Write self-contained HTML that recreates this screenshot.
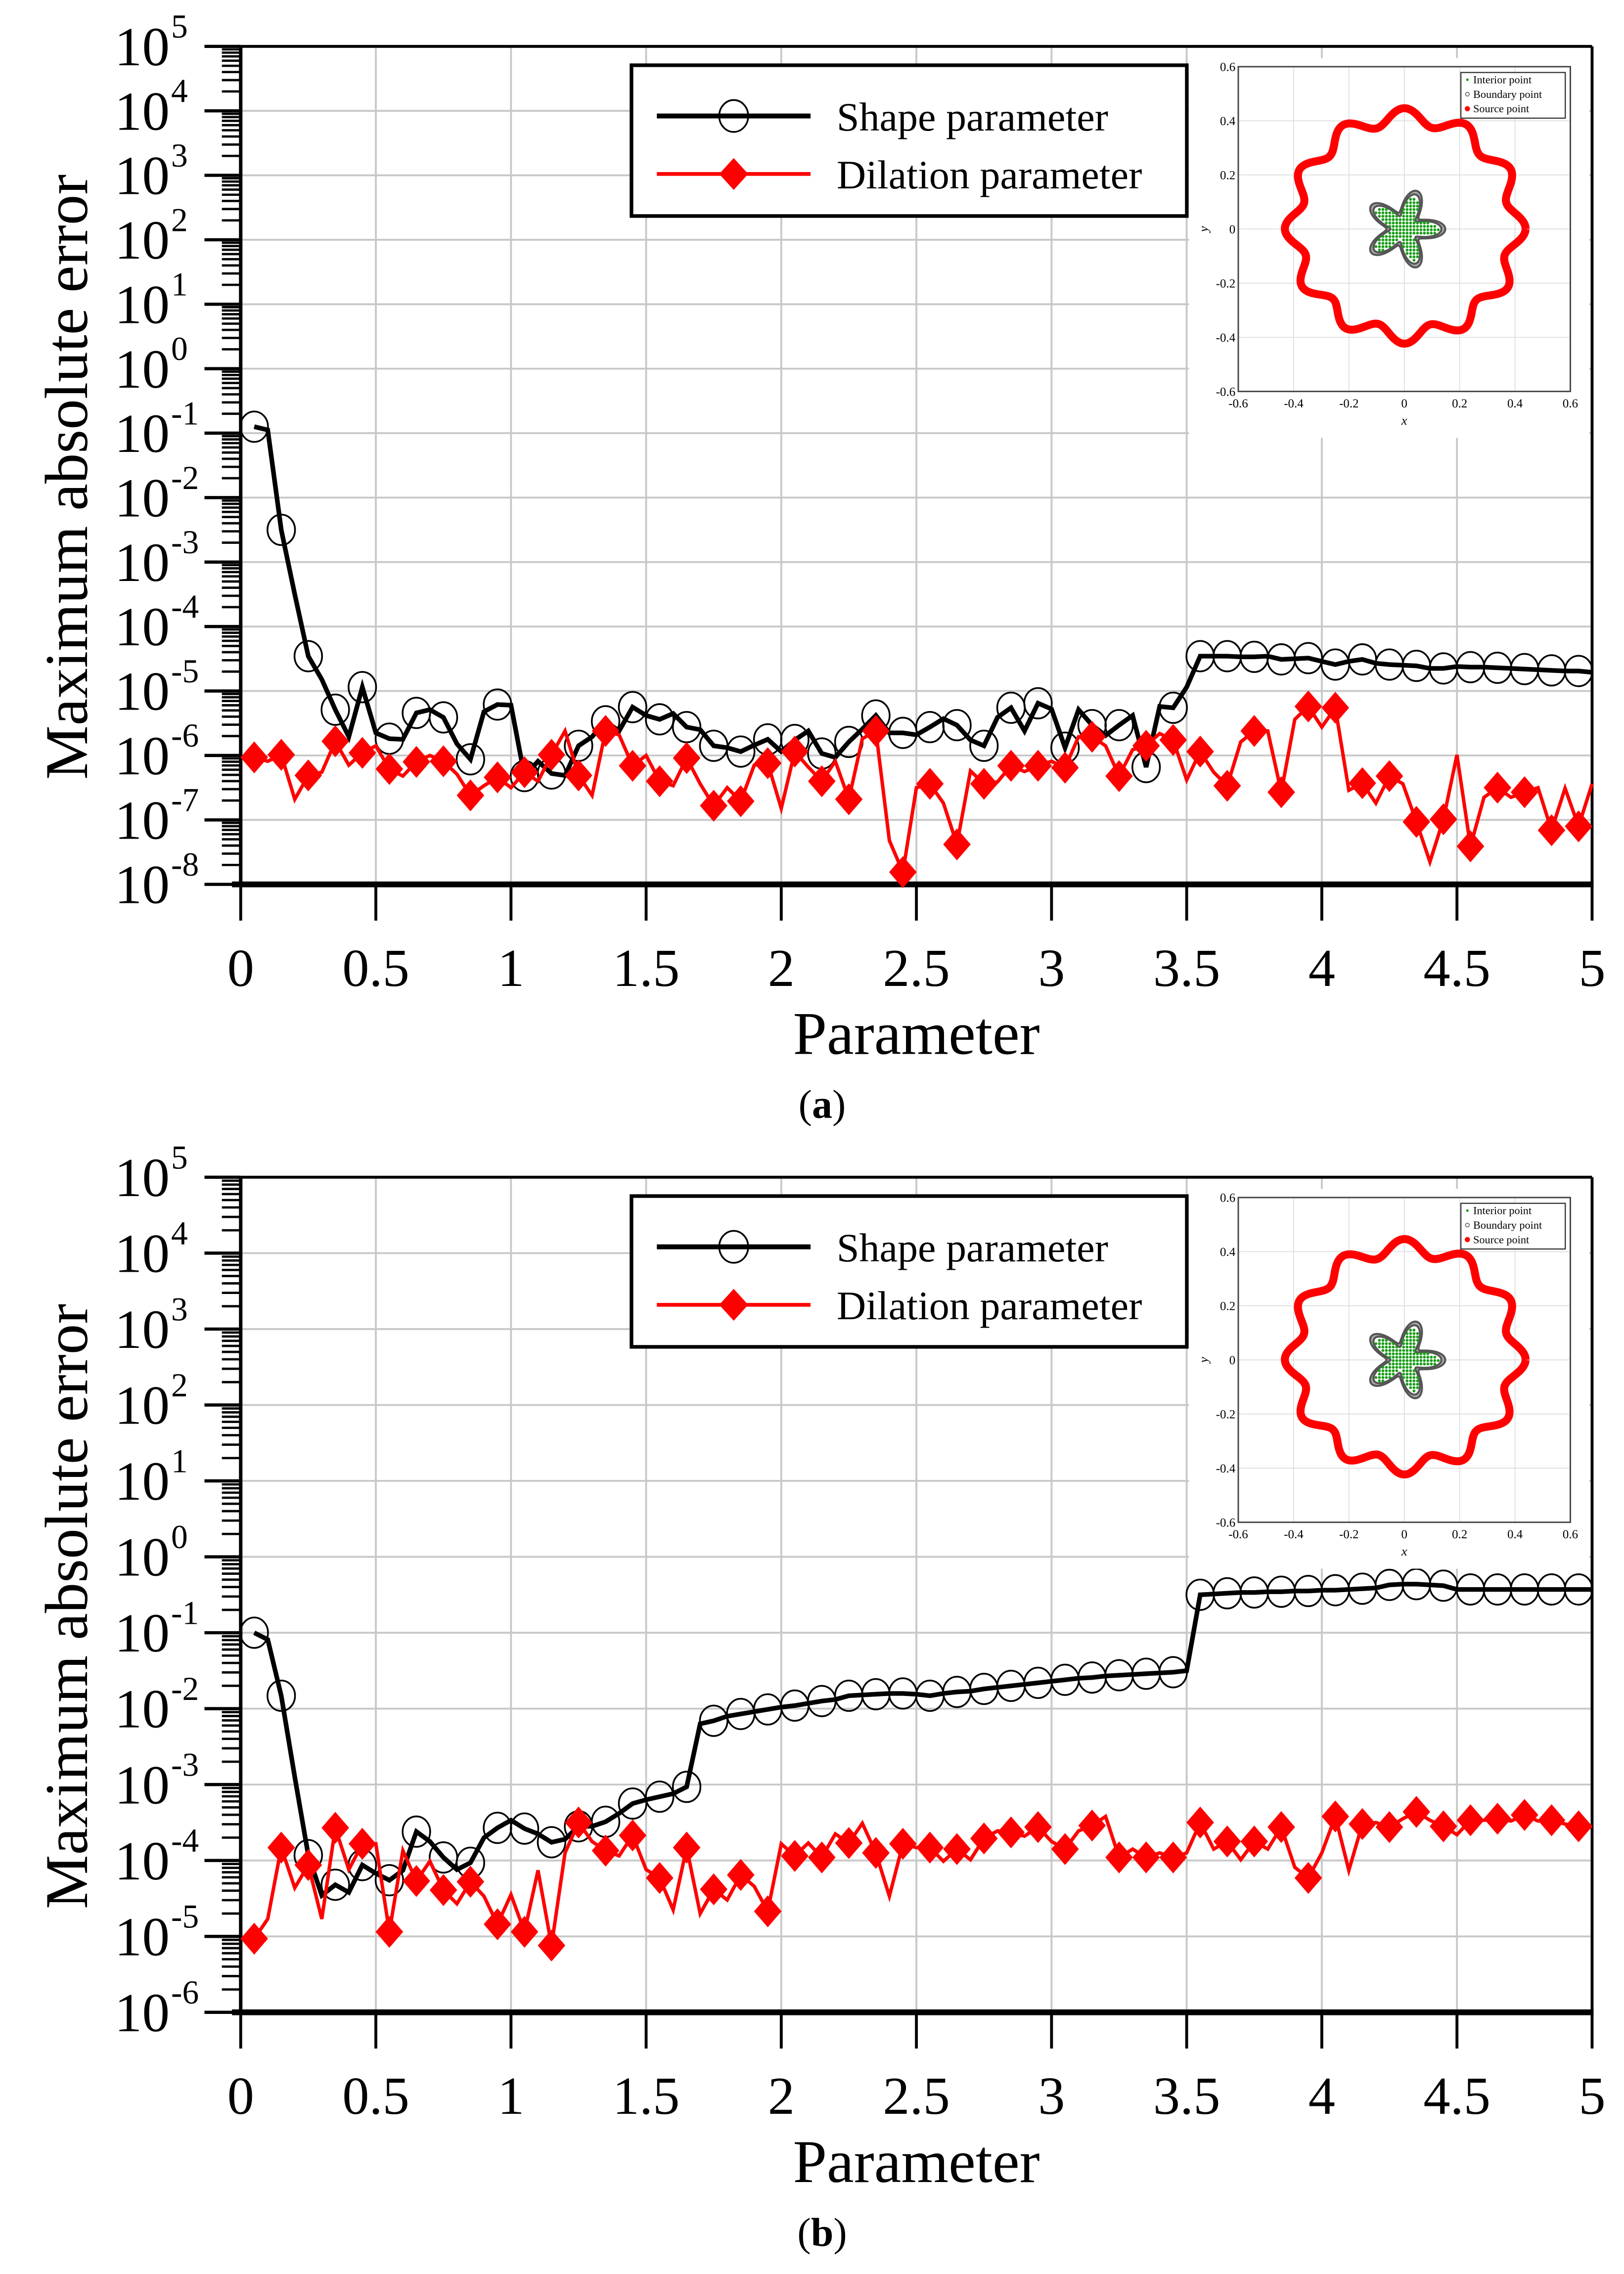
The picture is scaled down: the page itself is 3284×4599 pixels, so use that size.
<!DOCTYPE html>
<html><head><meta charset="utf-8">
<style>
html,body{margin:0;padding:0;background:#fff;}
svg{display:block;}
text{font-family:"Liberation Serif","DejaVu Serif",serif;fill:#000;}
</style></head>
<body>
<svg id="fig" xmlns="http://www.w3.org/2000/svg" width="3284" height="4599" viewBox="0 0 1120 1568.5">
<rect x="0" y="0" width="1120" height="1568.5" fill="#fff"/>
</svg>
<script>
const xTicks = [0,0.5,1,1.5,2,2.5,3,3.5,4,4.5,5];
const xTickLabels = ["0","0.5","1","1.5","2","2.5","3","3.5","4","4.5","5"];
const yExpA = [5,4,3,2,1,0,-1,-2,-3,-4,-5,-6,-7,-8];
const yExpB = [5,4,3,2,1,0,-1,-2,-3,-4,-5,-6];
const shapeA_log10 = [
-0.9,-0.95,-2.5,-3.5,-4.46,-4.82,-5.29,-5.71,-4.94,-5.65,
-5.74,-5.75,-5.34,-5.29,-5.41,-5.82,-6.06,-5.32,-5.21,-5.22,
-6.32,-6.09,-6.28,-6.31,-5.85,-5.71,-5.47,-5.62,-5.25,-5.38,
-5.44,-5.35,-5.56,-5.6,-5.85,-5.88,-5.94,-5.84,-5.75,-5.94,
-5.76,-5.62,-5.97,-6.03,-5.79,-5.59,-5.38,-5.65,-5.65,-5.68,
-5.56,-5.43,-5.53,-5.76,-5.85,-5.41,-5.26,-5.62,-5.19,-5.28,
-5.88,-5.29,-5.53,-5.69,-5.53,-5.38,-6.18,-5.24,-5.26,-4.94,
-4.46,-4.46,-4.46,-4.47,-4.47,-4.46,-4.51,-4.5,-4.49,-4.54,
-4.59,-4.54,-4.51,-4.57,-4.59,-4.6,-4.61,-4.65,-4.65,-4.62,
-4.63,-4.63,-4.64,-4.65,-4.66,-4.67,-4.68,-4.69,-4.69,-4.71];
const dilationA_log10 = [
-6.03,-6.09,-5.99,-6.68,-6.31,-6.26,-5.78,-6.15,-5.96,-5.85,
-6.21,-6.32,-6.1,-6.0,-6.09,-6.29,-6.62,-6.47,-6.34,-6.5,
-6.26,-6.4,-5.99,-5.62,-6.31,-6.62,-5.62,-5.68,-6.16,-6.0,
-6.4,-6.47,-6.04,-6.44,-6.78,-6.5,-6.71,-6.15,-6.12,-6.82,
-5.94,-6.18,-6.4,-6.09,-6.68,-5.74,-5.62,-7.32,-7.81,-6.5,
-6.44,-6.74,-7.38,-6.24,-6.44,-6.41,-6.16,-6.25,-6.16,-6.09,
-6.19,-5.71,-5.71,-5.85,-6.32,-5.91,-5.85,-5.66,-5.76,-6.38,
-5.94,-6.26,-6.47,-5.79,-5.62,-5.62,-6.57,-5.44,-5.24,-5.56,
-5.26,-6.54,-6.43,-6.74,-6.32,-6.44,-7.03,-7.65,-6.99,-5.99,
-7.41,-6.65,-6.5,-6.65,-6.57,-6.5,-7.16,-6.51,-7.1,-6.44];
const shapeB_log10 = [
-1.0,-1.09,-1.83,-2.9,-3.93,-4.46,-4.32,-4.42,-4.06,-4.17,
-4.26,-4.13,-3.62,-3.75,-3.96,-4.12,-4.03,-3.7,-3.57,-3.47,
-3.58,-3.65,-3.76,-3.72,-3.55,-3.55,-3.49,-3.38,-3.25,-3.2,
-3.16,-3.12,-3.03,-2.2,-2.16,-2.1,-2.07,-2.04,-2.01,-1.98,
-1.96,-1.93,-1.9,-1.88,-1.83,-1.82,-1.81,-1.8,-1.8,-1.81,
-1.83,-1.8,-1.78,-1.77,-1.74,-1.72,-1.7,-1.68,-1.66,-1.64,
-1.62,-1.6,-1.59,-1.57,-1.56,-1.55,-1.54,-1.53,-1.52,-1.5,
-0.5,-0.49,-0.48,-0.47,-0.47,-0.46,-0.46,-0.45,-0.45,-0.44,
-0.44,-0.43,-0.42,-0.41,-0.37,-0.36,-0.36,-0.37,-0.38,-0.43,
-0.43,-0.43,-0.43,-0.43,-0.43,-0.43,-0.43,-0.43,-0.43,-0.43];
const dilationB_log10 = [
-5.03,-4.77,-3.83,-4.36,-4.06,-4.77,-3.57,-4.12,-3.78,-3.78,
-4.94,-3.87,-4.27,-4.01,-4.39,-4.57,-4.28,-4.47,-4.84,-4.45,
-4.94,-4.13,-5.12,-3.9,-3.5,-3.75,-3.87,-3.94,-3.67,-4.12,
-4.23,-4.65,-3.83,-4.7,-4.38,-4.52,-4.19,-4.34,-4.67,-3.78,
-3.94,-3.77,-3.96,-3.65,-3.77,-3.51,-3.9,-4.47,-3.78,-3.83,
-3.83,-4.01,-3.85,-3.99,-3.71,-3.61,-3.63,-3.68,-3.56,-3.75,
-3.85,-3.61,-3.54,-3.42,-3.96,-3.85,-3.96,-3.9,-3.96,-3.9,
-3.5,-3.85,-3.75,-3.99,-3.75,-3.85,-3.56,-4.09,-4.23,-3.9,
-3.42,-4.13,-3.52,-3.5,-3.56,-3.45,-3.36,-3.47,-3.55,-3.66,
-3.47,-3.47,-3.45,-3.48,-3.4,-3.48,-3.47,-3.52,-3.55,-3.55];

const NS = "http://www.w3.org/2000/svg";
const svg = document.getElementById("fig");
function el(tag, attrs, parent) {
  const e = document.createElementNS(NS, tag);
  for (const k in attrs) e.setAttribute(k, attrs[k]);
  (parent || svg).appendChild(e);
  return e;
}

function drawPanel(p) {
  const g = el("g", {});
  
  
  const X0 = 166, X1 = 1098;
  const xs = v => X0 + (v / 5) * (X1 - X0);
  const ys = e => p.yTop + (p.eMax - e) / (p.eMax - p.eMin) * (p.yBot - p.yTop);
  const grid = el("g", {stroke: "#c8c8c8", "stroke-width": 1.3}, g);
  
  
  xTicks.forEach(v => { if (v > 0 && v < 5) el("line", {x1: xs(v), x2: xs(v), y1: p.yTop, y2: p.yBot}, grid); });
  p.exps.forEach(e => { if (e !== p.eMax && e !== p.eMin) el("line", {x1: X0, x2: X1, y1: ys(e), y2: ys(e)}, grid); });
  const ticks = el("g", {stroke: "#000"}, g);
  
  
  p.exps.forEach(e => {
    el("line", {x1: 141, x2: X0, y1: ys(e), y2: ys(e), "stroke-width": 2.2}, ticks);
    if (e > p.eMin) for (let m = 2; m <= 9; m++) {
      const yy = ys(e - 1 + Math.log10(m));
      el("line", {x1: 153, x2: X0, y1: yy, y2: yy, "stroke-width": 1.6}, ticks);
    }
  });
  p.exps.forEach(e => {
    const t = el("text", {x: 117, y: ys(e) + 13, "font-size": 38, "text-anchor": "end"}, g);
    
    
    t.textContent = "10";
    const s = el("text", {x: 118, y: ys(e) - 6, "font-size": 23}, g);
    
    
    s.textContent = String(e);
  });
  xTicks.forEach((v, i) => {
    el("line", {x1: xs(v), x2: xs(v), y1: p.yBot, y2: p.yBot + 25, stroke: "#000", "stroke-width": 2}, g);
    const t = el("text", {x: xs(v), y: p.yBot + 70, "font-size": 37, "text-anchor": "middle"}, g);
    
    
    t.textContent = xTickLabels[i];
  });
  el("line", {x1: X0, x2: X1, y1: p.yTop, y2: p.yTop, stroke: "#000", "stroke-width": 2}, g);
  el("line", {x1: X1, x2: X1, y1: p.yTop, y2: p.yBot, stroke: "#000", "stroke-width": 2}, g);
  el("line", {x1: X0, x2: X0, y1: p.yTop, y2: p.yBot, stroke: "#000", "stroke-width": 2.4}, g);
  el("line", {x1: 160, x2: X1 + 1, y1: p.yBot, y2: p.yBot, stroke: "#000", "stroke-width": 4}, g);
  const xt = el("text", {x: 632, y: p.yBot + 117, "font-size": 42, "text-anchor": "middle"}, g);
  
  
  xt.textContent = "Parameter";
  const ycy = (p.yTop + p.yBot) / 2;
  const yt = el("text", {x: 0, y: 0, "font-size": 42, "text-anchor": "middle", transform: "translate(60," + (ycy + 8) + ") rotate(-90)"}, g);
  
  
  yt.textContent = "Maximum absolute error";
  const cap = el("text", {x: 567, y: p.yBot + 161, "font-size": 28, "text-anchor": "middle"}, g);
  
  
  cap.innerHTML = '(<tspan font-weight="bold">' + p.id + '</tspan>)';
  function series(vals, color, width, marker, name) {
    const sg = el("g", {}, g);
    
    
    const pts = vals.map((e, i) => xs((i + 1) * 0.05).toFixed(2) + "," + ys(e).toFixed(2)).join(" ");
    const pl = el("polyline", {points: pts, fill: "none", stroke: color, "stroke-width": width, "stroke-linejoin": "miter"}, sg);
    
    
    vals.forEach((e, i) => {
      if (i % 2 !== 0) return;
      const cx = xs((i + 1) * 0.05), cy = ys(e);
      let m;
      if (marker === "circle") m = el("ellipse", {cx: cx, cy: cy, rx: 9.5, ry: 10.5, fill: "none", stroke: "#000", "stroke-width": 1.2}, sg);
      else m = el("polygon", {points: (cx) + "," + (cy - 11) + " " + (cx + 9.5) + "," + cy + " " + cx + "," + (cy + 11) + " " + (cx - 9.5) + "," + cy, fill: "#f00"}, sg);
      
      
    });
  }
  series(p.shape, "#000", 3.2, "circle", "shape-parameter-series");
  series(p.dil, "#f00", 2.4, "diamond", "dilation-parameter-series");
  const off = p.yTop - 32;
  const lg = el("g", {}, g);
  
  
  el("rect", {x: 435.5, y: 45 + off, width: 383, height: 104, fill: "#fff", stroke: "#000", "stroke-width": 2.5}, lg);
  el("line", {x1: 453, x2: 559, y1: 80 + off, y2: 80 + off, stroke: "#000", "stroke-width": 3.4}, lg);
  el("ellipse", {cx: 506, cy: 80 + off, rx: 10, ry: 11, fill: "none", stroke: "#000", "stroke-width": 1.2}, lg);
  el("line", {x1: 453, x2: 559, y1: 120 + off, y2: 120 + off, stroke: "#f00", "stroke-width": 2.6}, lg);
  el("polygon", {points: "506," + (109 + off) + " 516," + (120 + off) + " 506," + (131 + off) + " 496," + (120 + off), fill: "#f00"}, lg);
  const l1 = el("text", {x: 577, y: 90 + off, "font-size": 28}, lg);
  
  
  l1.textContent = "Shape parameter";
  const l2 = el("text", {x: 577, y: 130 + off, "font-size": 28}, lg);
  
  
  l2.textContent = "Dilation parameter";
  drawInset(g, off);
}

function drawInset(parent, off) {
  const g = el("g", {}, parent);
  
  
  el("rect", {x: 820, y: 40 + off, width: 276, height: 262, fill: "#fff"}, g);
  const L = 854, R = 1083, T = 46 + off, B = 270 + off;
  const ix = v => L + (v + 0.6) / 1.2 * (R - L);
  const iy = v => B - (v + 0.6) / 1.2 * (B - T);
  const tv = [-0.6, -0.4, -0.2, 0, 0.2, 0.4, 0.6];
  tv.forEach(v => {
    if (v > -0.6 && v < 0.6) {
      el("line", {x1: ix(v), x2: ix(v), y1: T, y2: B, stroke: "#ddd", "stroke-width": 0.6}, g);
      el("line", {x1: L, x2: R, y1: iy(v), y2: iy(v), stroke: "#ddd", "stroke-width": 0.6}, g);
    }
    const lab = v === 0 ? "0" : v.toFixed(1);
    const tx = el("text", {x: ix(v), y: B + 11, "font-size": 8.5, "text-anchor": "middle", fill: "#333"}, g);
    
    
    tx.textContent = lab;
    const ty = el("text", {x: L - 2, y: iy(v) + 3, "font-size": 8.5, "text-anchor": "end", fill: "#333"}, g);
    
    
    ty.textContent = lab;
  });
  el("rect", {x: L, y: T, width: R - L, height: B - T, fill: "none", stroke: "#444", "stroke-width": 1}, g);
  const xl = el("text", {x: (L + R) / 2, y: B + 23, "font-size": 9, "font-style": "italic", "text-anchor": "middle"}, g);
  
  
  xl.textContent = "x";
  const yl = el("text", {x: 0, y: 0, "font-size": 9, "font-style": "italic", "text-anchor": "middle", transform: "translate(833," + (iy(0)) + ") rotate(-90)"}, g);
  
  
  yl.textContent = "y";
  let sp = [];
  for (let k = 0; k <= 360; k++) {
    const th = k / 360 * 2 * Math.PI;
    const r = 0.405 + 0.03 * Math.cos(12 * (th - Math.PI)) + 0.012 * Math.cos(th - 1.3);
    sp.push(ix(r * Math.cos(th)).toFixed(2) + "," + iy(r * Math.sin(th)).toFixed(2));
  }
  const src = el("polyline", {points: sp.join(" "), fill: "none", stroke: "#f00", "stroke-width": 5.5}, g);
  
  
  const fr = th => 0.092 + 0.042 * Math.cos(5 * th);
  [0.014, 0.0].forEach(d => {
    let fp = [];
    for (let k = 0; k <= 200; k++) {
      const th = k / 200 * 2 * Math.PI, r = fr(th) + d;
      fp.push(ix(r * Math.cos(th)).toFixed(2) + "," + iy(r * Math.sin(th)).toFixed(2));
    }
    el("polygon", {points: fp.join(" "), fill: d === 0 ? "#fff" : "#aaa", stroke: "#555", "stroke-width": 1.4}, g);
  });
  const dots = el("g", {fill: "#1a9e1a"}, g);
  
  
  for (let a = -0.14; a <= 0.14; a += 0.0125) for (let b = -0.14; b <= 0.14; b += 0.0125) {
    const r = Math.hypot(a, b), th = Math.atan2(b, a);
    if (r < fr(th) - 0.01) el("circle", {cx: ix(a), cy: iy(b), r: 1.0}, dots);
  }
  const lg = el("g", {}, g);
  
  
  el("rect", {x: 1007.5, y: 50 + off, width: 72, height: 31.5, fill: "#fff", stroke: "#333", "stroke-width": 0.8}, lg);
  const items = [["Interior point", "#1a9e1a", 0.9], ["Boundary point", "#fff", 1.3], ["Source point", "#f00", 1.8]];
  items.forEach((it, i) => {
    const yy = 57.5 + off + i * 10;
    el("circle", {cx: 1012, cy: yy - 2.5, r: it[2], fill: it[1], stroke: i === 1 ? "#555" : "none", "stroke-width": 0.5}, lg);
    const t = el("text", {x: 1016, y: yy, "font-size": 7.6}, lg);
    
    
    t.textContent = it[0];
  });
}

drawPanel({id: "a", yTop: 32, yBot: 610, eMax: 5, eMin: -8, exps: yExpA, shape: shapeA_log10, dil: dilationA_log10});
drawPanel({id: "b", yTop: 812, yBot: 1388, eMax: 5, eMin: -6, exps: yExpB, shape: shapeB_log10, dil: dilationB_log10});
</script>
</body></html>
